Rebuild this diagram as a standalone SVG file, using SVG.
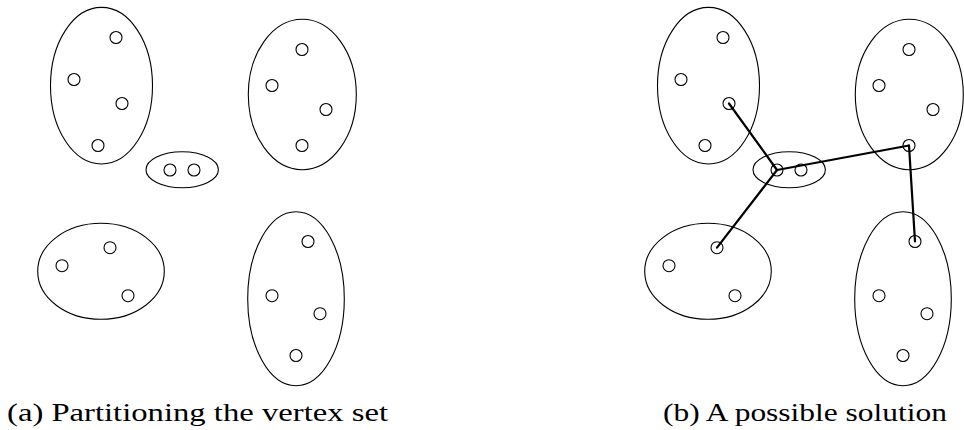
<svg xmlns="http://www.w3.org/2000/svg" width="964" height="430" viewBox="0 0 964 430">
<defs>
<style>
.set{fill:none;stroke:#000;stroke-width:1.1}
.v{fill:#fff;stroke:#000;stroke-width:1.1}
.e{stroke:#000;stroke-width:2.2;stroke-linecap:round;fill:none}
.cap{font-family:'Liberation Serif','Times New Roman',Times,serif;font-size:25px;fill:#000}
</style>
</defs>
<rect width="964" height="430" fill="#fff"/>
<g id="panel-a">
<g id="a-set1"><ellipse class="set" cx="101.5" cy="85.7" rx="51" ry="78.3"/>
<circle class="v" cx="116" cy="37.5" r="6"/><circle class="v" cx="74" cy="79.5" r="6"/><circle class="v" cx="122" cy="103.5" r="6"/><circle class="v" cx="98" cy="145.5" r="6"/></g>
<g id="a-set2"><ellipse class="set" cx="302.3" cy="94.5" rx="54" ry="75.2"/>
<circle class="v" cx="302" cy="49.5" r="6"/><circle class="v" cx="272" cy="85.5" r="6"/><circle class="v" cx="326" cy="109.5" r="6"/><circle class="v" cx="302" cy="145.5" r="6"/></g>
<g id="a-set3"><ellipse class="set" cx="182.2" cy="169.7" rx="36.2" ry="18"/>
<circle class="v" cx="170" cy="170" r="6"/><circle class="v" cx="194" cy="170" r="6"/></g>
<g id="a-set4"><ellipse class="set" cx="101" cy="271.3" rx="63.3" ry="48"/>
<circle class="v" cx="62" cy="265.7" r="6"/><circle class="v" cx="110" cy="247.7" r="6"/><circle class="v" cx="128" cy="295.7" r="6"/></g>
<g id="a-set5"><ellipse class="set" cx="296" cy="298.7" rx="48.3" ry="87"/>
<circle class="v" cx="308" cy="241.5" r="6"/><circle class="v" cx="272" cy="295.7" r="6"/><circle class="v" cx="320" cy="313.7" r="6"/><circle class="v" cx="296" cy="355.5" r="6"/></g>
<text class="cap" font-family="Liberation Serif, serif" x="7" y="421" textLength="381" lengthAdjust="spacingAndGlyphs">(a) Partitioning the vertex set</text>
</g>
<g id="panel-b" transform="translate(607,0)">
<g id="b-set1"><ellipse class="set" cx="101.5" cy="85.7" rx="51" ry="78.3"/>
<circle class="v" cx="116" cy="37.5" r="6"/><circle class="v" cx="74" cy="79.5" r="6"/><circle class="v" cx="122" cy="103.5" r="6"/><circle class="v" cx="98" cy="145.5" r="6"/></g>
<g id="b-set2"><ellipse class="set" cx="302.3" cy="94.5" rx="54" ry="75.2"/>
<circle class="v" cx="302" cy="49.5" r="6"/><circle class="v" cx="272" cy="85.5" r="6"/><circle class="v" cx="326" cy="109.5" r="6"/><circle class="v" cx="302" cy="145.5" r="6"/></g>
<g id="b-set3"><ellipse class="set" cx="182.2" cy="169.7" rx="36.2" ry="18"/>
<circle class="v" cx="170" cy="170" r="6"/><circle class="v" cx="194" cy="170" r="6"/></g>
<g id="b-set4"><ellipse class="set" cx="101" cy="271.3" rx="63.3" ry="48"/>
<circle class="v" cx="62" cy="265.7" r="6"/><circle class="v" cx="110" cy="247.7" r="6"/><circle class="v" cx="128" cy="295.7" r="6"/></g>
<g id="b-set5"><ellipse class="set" cx="296" cy="298.7" rx="48.3" ry="87"/>
<circle class="v" cx="308" cy="241.5" r="6"/><circle class="v" cx="272" cy="295.7" r="6"/><circle class="v" cx="320" cy="313.7" r="6"/><circle class="v" cx="296" cy="355.5" r="6"/></g>
<g id="connectors">
<line class="e" x1="170" y1="170" x2="122" y2="103.5"/>
<line class="e" x1="170" y1="170" x2="302" y2="145.5"/>
<line class="e" x1="170" y1="170" x2="110" y2="247.7"/>
<line class="e" x1="302" y1="145.5" x2="308" y2="241.5"/>
</g>
</g>
<text class="cap" font-family="Liberation Serif, serif" x="663" y="421" textLength="284" lengthAdjust="spacingAndGlyphs">(b) A possible solution</text>
</svg>
